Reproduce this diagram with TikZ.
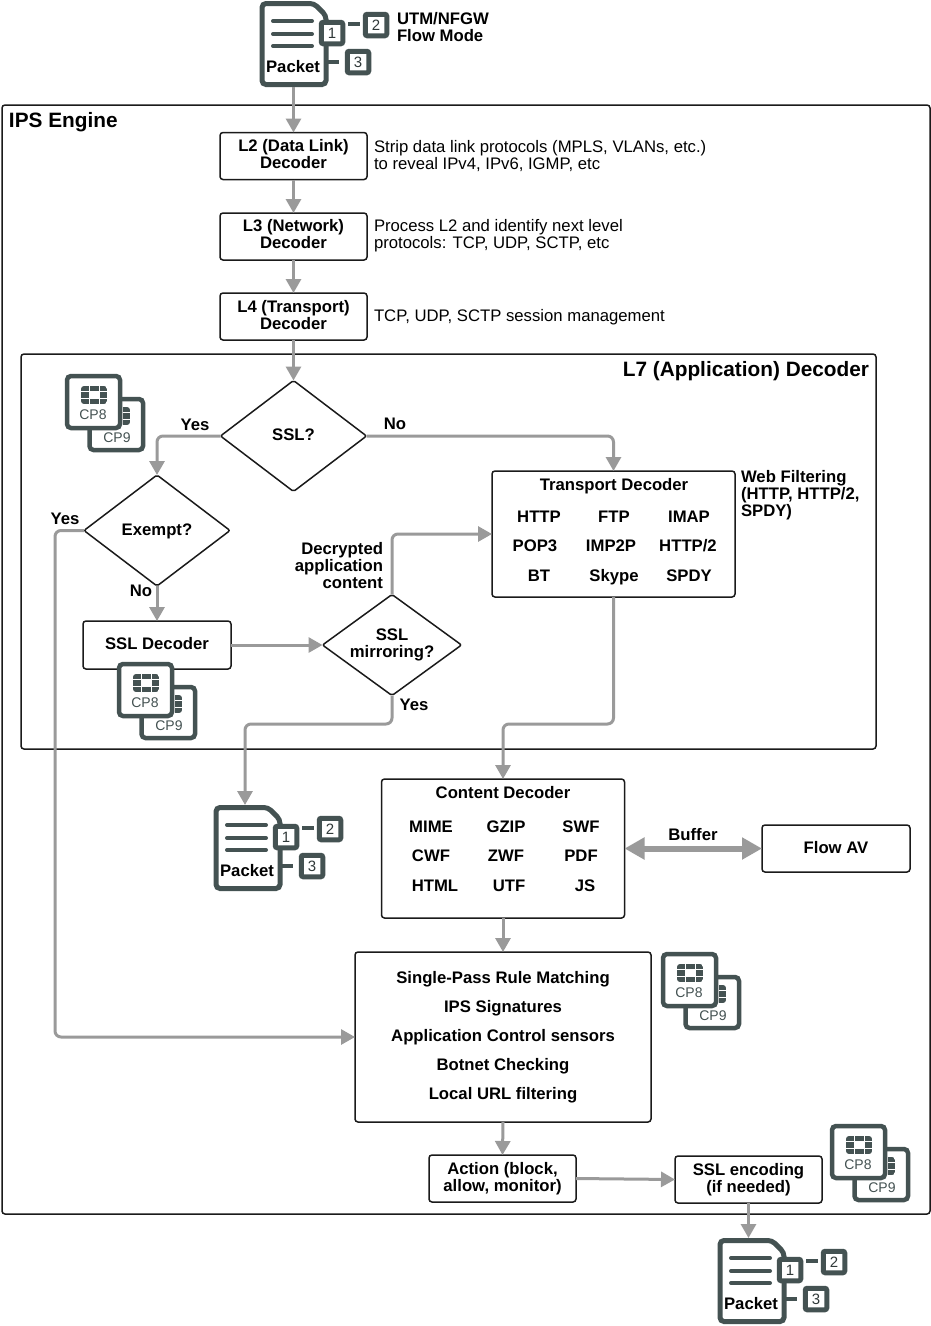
\documentclass[tikz,border=0pt]{standalone}
\usepackage{fontspec}
\setmainfont{Liberation Sans}
\usetikzlibrary{arrows.meta,shapes.geometric}
\definecolor{icon}{HTML}{445252}
\definecolor{conn}{HTML}{9A9A9A}
\definecolor{edgec}{HTML}{1A1A1A}
\newcommand{\lab}{\fontsize{16.7}{17}\selectfont\bfseries}
\newcommand{\dsc}{\fontsize{16.7}{17}\selectfont}
\newcommand{\biglab}{\fontsize{20.8}{21}\selectfont\bfseries}
\tikzset{
  blk/.style={draw=edgec,line width=1.5pt,rounded corners=3pt,inner sep=0pt,outer sep=0pt,fill=white},
  decbox/.style={blk,minimum width=147pt,minimum height=47pt,align=center,font=\lab},
  dia/.style={draw=edgec,line width=1.5pt,shape=diamond,inner sep=0pt,outer sep=0pt,align=center,font=\lab,fill=white,rounded corners=2pt},
  labm/.style={inner sep=0pt,outer sep=0pt,font=\lab,align=center},
  lab/.style={labm,text height=12pt,text depth=0pt},
  desc/.style={inner sep=0pt,outer sep=0pt,font=\dsc,align=left,anchor=west},
  cn/.style={draw=conn,line width=3pt,rounded corners=6pt,-{Triangle[length=14pt,width=15pt]}},
  iconline/.style={draw=icon,line width=4pt,line cap=round},
  icondash/.style={draw=icon,line width=4pt},
  iconbox/.style={draw=icon,line width=5pt,rounded corners=2pt,fill=white,minimum width=21.5pt,minimum height=21.5pt,inner sep=0pt,font=\fontsize{15}{15}\selectfont,text=icon!70!black},
  cpbox/.style={draw=icon,line width=4.5pt,rounded corners=4pt,fill=white},
  cptext/.style={inner sep=0pt,font=\fontsize{14}{14}\selectfont,text=icon},
}
\newcommand{\packeticon}[3]{%
  \begin{scope}[shift={(#1,#2)}]
    \draw[draw=icon,line width=5pt,rounded corners=4pt,fill=white]
      (0,0) -- (52,0) -- (64,12) -- (64,81) -- (0,81) -- cycle;
    \draw[iconline] (11,17.5) -- (50,17.5);
    \draw[iconline] (11,30.5) -- (50,30.5);
    \draw[iconline] (11,42.5) -- (50,42.5);
    \node[lab] (#3text) at (31,63) {Packet};
    \node[iconbox] (#3a) at (70,29.5) {1};
    \node[iconbox] (#3b) at (114,21.5) {2};
    \node[iconbox] (#3c) at (96,58.5) {3};
    \draw[icondash] (86,20.5) -- (98,20.5);
    \draw[icondash] (65,58.5) -- (77,58.5);
  \end{scope}}
\newcommand{\fortlogo}[2]{%
  \begin{scope}[shift={(#1,#2)}]
    \clip[rounded corners=3pt] (-13,-9) rectangle (13,9);
    \fill[icon] (-13,-9) rectangle (-5.5,-4.4);
    \fill[icon] (-4.5,-9) rectangle (4.5,-4.4);
    \fill[icon] (5.5,-9) rectangle (13,-4.4);
    \fill[icon] (-13,-2.6) rectangle (-5.5,2.6);
    \fill[icon] (5.5,-2.6) rectangle (13,2.6);
    \fill[icon] (-13,4.4) rectangle (-5.5,9);
    \fill[icon] (-4.5,4.4) rectangle (4.5,9);
    \fill[icon] (5.5,4.4) rectangle (13,9);
  \end{scope}}
\newcommand{\cpicon}[3]{%
  \begin{scope}[shift={(#1,#2)}]
    \draw[cpbox] (22.5,23) rectangle (76,74);
    \fortlogo{50}{40}
    \node[cptext] (#3nine) at (50,61.5) {CP9};
    \draw[cpbox] (0,0) rectangle (53,52);
    \fortlogo{27}{19}
    \node[cptext] (#3eight) at (26,39) {CP8};
  \end{scope}}
\begin{document}
\begin{tikzpicture}[x=1pt,y=-1pt]
\useasboundingbox (0,0) rectangle (931,1326);
\fill[white] (0,0) rectangle (931,1326);
% containers
\node[blk,minimum width=928pt,minimum height=1109pt] (ips) at (466,659.5) {};
\node[labm,anchor=west,font=\biglab] (ipslab) at (9,122) {IPS Engine};
\node[blk,minimum width=855pt,minimum height=395pt] (l7) at (448.5,551.5) {};
\node[labm,anchor=east,font=\biglab] (l7lab) at (869,371) {L7 (Application) Decoder};
% decoders
\node[decbox] (l2) at (293.5,156) {};
\node[labm] (l2t) at (293.5,154) {L2 (Data Link)\\Decoder};
\node[decbox] (l3) at (293.5,236.5) {};
\node[labm] (l3t) at (293.5,234.5) {L3 (Network)\\Decoder};
\node[decbox] (l4) at (293.5,316.5) {};
\node[labm] (l4t) at (293.5,315.5) {L4 (Transport)\\Decoder};
\node[desc] (d2) at (374,156.2) {Strip data link protocols (MPLS, VLANs, etc.)\\to reveal IPv4, IPv6, IGMP, etc};
\node[desc] (d3) at (374,236) {Process L2 and identify next level\\protocols: TCP, UDP, SCTP, etc};
\node[desc] (d4) at (374,317) {TCP, UDP, SCTP session management};
% diamonds
\node[dia,minimum width=146pt,minimum height=111pt,shape aspect=1.31] (ssl) at (293.5,436) {};
\node[lab] (sslt) at (293.5,434) {SSL?};
\node[dia,minimum width=146pt,minimum height=111pt,shape aspect=1.31] (exempt) at (157,530.5) {};
\node[lab] (exemptt) at (157,529) {Exempt?};
\node[dia,minimum width=139pt,minimum height=101pt,shape aspect=1.37] (mirror) at (392,645) {SSL\\mirroring?};
% boxes
\node[blk,minimum width=243pt,minimum height=126pt] (transport) at (613.5,534) {};
\node[blk,minimum width=148pt,minimum height=48pt] (ssldec) at (157,645) {};
\node[lab] (ssldect) at (157,643.5) {SSL Decoder};
\node[blk,minimum width=243pt,minimum height=139pt] (content) at (503,848.5) {};
\node[blk,minimum width=148pt,minimum height=47pt] (flowav) at (836,848.5) {};
\node[lab] (flowavt) at (836,847) {Flow AV};
\node[blk,minimum width=296pt,minimum height=170pt] (rules) at (503,1037) {};
\node[decbox] (action) at (502.5,1178.5) {Action (block,\\allow, monitor)};
\node[decbox] (sslenc) at (748.5,1179.5) {SSL encoding\\(if needed)};
% transport contents
\node[lab] (tt) at (614,484.5) {Transport Decoder};
\node[lab] (t1) at (539,516.5) {HTTP};
\node[lab] (t2) at (614,516.5) {FTP};
\node[lab] (t3) at (689,516.5) {IMAP};
\node[lab] (t4) at (535,545.5) {POP3};
\node[lab] (t5) at (611,545.5) {IMP2P};
\node[lab] (t6) at (688,545.5) {HTTP/2};
\node[lab] (t7) at (539,575) {BT};
\node[lab] (t8) at (614,575) {Skype};
\node[lab] (t9) at (689,575) {SPDY};
% content contents
\node[lab] (ct) at (503,792) {Content Decoder};
\node[lab] (c1) at (431,826.5) {MIME};
\node[lab] (c2) at (506,826.5) {GZIP};
\node[lab] (c3) at (581,826.5) {SWF};
\node[lab] (c4) at (431,855.5) {CWF};
\node[lab] (c5) at (506,855.5) {ZWF};
\node[lab] (c6) at (581,855.5) {PDF};
\node[lab] (c7) at (435,885) {HTML};
\node[lab] (c8) at (509,885) {UTF};
\node[lab] (c9) at (585,885) {JS};
% rule contents
\node[lab] (r1) at (503,977) {Single-Pass Rule Matching};
\node[lab] (r2) at (503,1006) {IPS Signatures};
\node[lab] (r3) at (503,1035) {Application Control sensors};
\node[lab] (r4) at (503,1064) {Botnet Checking};
\node[lab] (r5) at (503,1093) {Local URL filtering};
% labels
\node[lab] (ly1) at (195,424) {Yes};
\node[lab] (ln1) at (395,423) {No};
\node[lab] (ly2) at (65,518) {Yes};
\node[lab] (ln2) at (141,590) {No};
\node[lab] (ly3) at (414,704) {Yes};
\node[labm,align=right,anchor=east] (ldec) at (383,566) {Decrypted\\application\\content};
\node[labm,align=left,anchor=west] (lweb) at (741,495.5) {Web Filtering\\(HTTP, HTTP/2,\\SPDY)};
\node[lab] (lbuf) at (693,834) {Buffer};
\node[labm,align=left,anchor=west] (lutm) at (397,27) {UTM/NFGW\\Flow Mode};
% icons
\packeticon{262}{3.5}{pa}
\packeticon{216}{807.5}{pb}
\packeticon{720}{1240.5}{pc}
\cpicon{67}{376}{ca}
\cpicon{119}{664}{cb}
\cpicon{663}{954}{cc}
\cpicon{832}{1126}{cd}
% connectors
\coordinate (pabot) at (293.5,87);
\coordinate (pbin) at (245,805);
\coordinate (pcin) at (748.5,1238);
\draw[cn] (pabot) -- (l2.north);
\draw[cn] (l2.south) -- (l3.north);
\draw[cn] (l3.south) -- (l4.north);
\draw[cn] (l4.south) -- (ssl.north);
\draw[cn] (ssl.west) -| (exempt.north);
\draw[cn] (ssl.east) -| (transport.north);
\draw[cn] (exempt.south) -- (ssldec.north);
\draw[cn] (ssldec.east) -- (mirror.west);
\draw[cn] (mirror.north) |- (transport.west);
\coordinate (m1) at (392,724);
\coordinate (m2) at (245,724);
\draw[cn] (mirror.south) -- (m1) -- (m2) -- (pbin);
\coordinate (t1c) at (613.5,724);
\coordinate (t2c) at (503,724);
\draw[cn] (transport.south) -- (t1c) -- (t2c) -- (content.north);
\draw[draw=conn,line width=6pt,{Triangle[length=20pt,width=21pt]}-{Triangle[length=20pt,width=21pt]}] (content.east) -- (flowav.west);
\draw[cn] (content.south) -- (rules.north);
\coordinate (e1) at (55,530.5);
\coordinate (e2) at (55,1037);
\draw[cn] (exempt.west) -- (e1) -- (e2) -- (rules.west);
\draw[cn] (rules.south) -- (action.north);
\draw[cn] (action.east) -- (sslenc.west);
\draw[cn] (sslenc.south) -- (pcin);
\end{tikzpicture}
\end{document}
